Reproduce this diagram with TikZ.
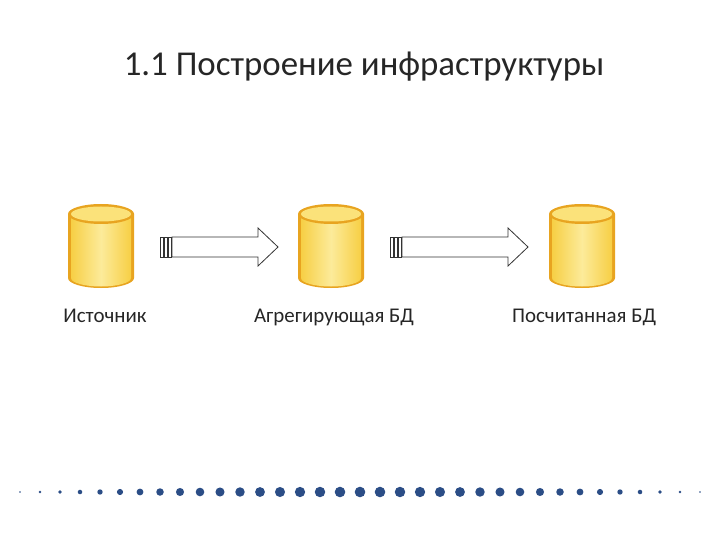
\documentclass[tikz,border=0pt]{standalone}
\usepackage{fontspec}
\setmainfont{Carlito}
\definecolor{cyedge}{HTML}{E8A420}
\definecolor{cybody}{HTML}{F7CF45}
\definecolor{cylight}{HTML}{FCEB9A}
\definecolor{cytop}{HTML}{FBE27A}
\definecolor{dotc}{HTML}{2B4D86}
\begin{document}
\begin{tikzpicture}[x=1bp,y=-1bp,
  lbl/.style={font=\fontsize{21}{24}\selectfont, text=black!85, anchor=base},
  arr/.style={draw=black!80, fill=white, line width=0.8bp}]
\useasboundingbox (0,0) rectangle (720,540);
\node[font=\fontsize{35}{40}\selectfont, text=black!85, anchor=base] (title) at (364,76) {1.1 Построение инфраструктуры};
\foreach \n/\cx in {c1/101,c2/331,c3/582}{
  \begin{scope}
  \fill[cyedge] (\cx-33,214) -- (\cx-33,278) arc[start angle=180,end angle=0,x radius=33,y radius=10] -- (\cx+33,214) -- cycle;
  \shade[left color=cybody, right color=cybody, middle color=cylight] (\cx-30,214) -- (\cx-30,278) arc[start angle=180,end angle=0,x radius=30,y radius=8.5] -- (\cx+30,214) -- cycle;
  \fill[cyedge] (\cx,214) ellipse[x radius=33,y radius=10];
  \fill[cytop] (\cx,214) ellipse[x radius=30,y radius=7.5];
  \coordinate (\n) at (\cx,250);
  \end{scope}
}
\node[lbl] (l1) at (105,322) {Источник};
\node[lbl] (l2) at (334,322) {Агрегирующая БД};
\node[lbl] (l3) at (584,322) {Посчитанная БД};
\foreach \a/\b in {160/278,390/528}{
  \draw[arr] (\a+12,237) -- (\b-20,237) -- (\b-20,228) -- (\b,247) -- (\b-20,266) -- (\b-20,257) -- (\a+12,257) -- cycle;
  \draw[arr] (\a,237) rectangle (\a+3,257);
  \draw[arr] (\a+4,237) rectangle (\a+7,257);
  \draw[arr] (\a+8,237) rectangle (\a+11,257);
}
\foreach \i in {0,...,34}{
  \pgfmathsetmacro{\r}{max(0.6,5.3*(1-(abs(\i-17)/18.5)^2))}
  \fill[dotc] (20+20*\i,492) circle[radius=\r];
}
\end{tikzpicture}
\end{document}
